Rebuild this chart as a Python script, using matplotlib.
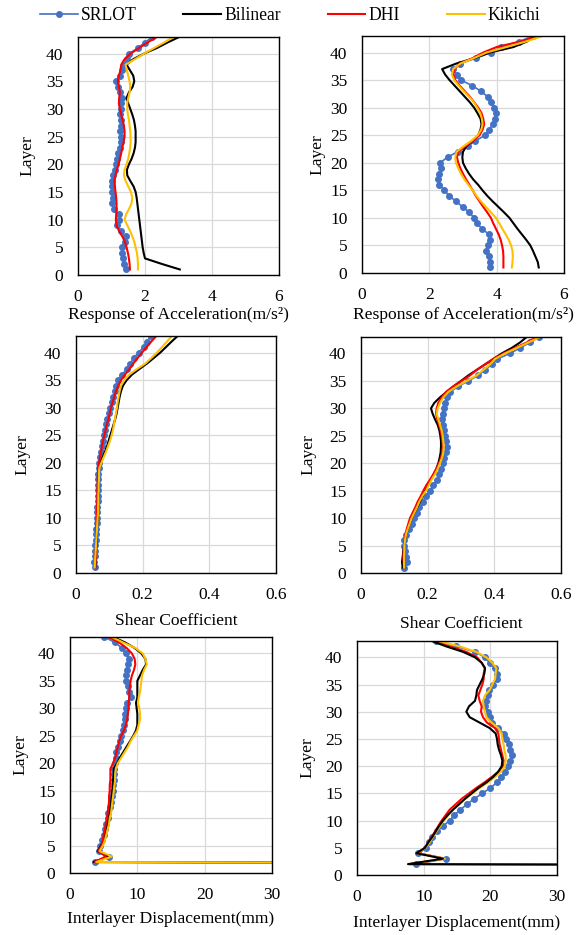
import numpy as np
import matplotlib
matplotlib.use('Agg')
import matplotlib.pyplot as plt

plt.rcParams['font.family'] = ['Liberation Serif', 'DejaVu Serif']
plt.rcParams['font.size'] = 12.5

W, H = 586, 935

layers = list(range(1, 44))
disp_srlot_layers = list(range(2, 44))

names = ['SRLOT', 'Bilinear', 'DHI', 'Kikichi']
colors = ['#4472C4', '#000000', '#FF0000', '#FFC000']

# ---- response of acceleration, left
acc1_srlot = [1.42, 1.37, 1.35, 1.32, 1.30, 1.39, 1.42, 1.27, 1.17, 1.22, 1.22, 1.07, 1.02, 1.04, 1.02,
              1.00, 1.02, 1.05, 1.09, 1.12, 1.17, 1.20, 1.25, 1.27, 1.27, 1.25, 1.27, 1.27, 1.25, 1.27,
              1.29, 1.30, 1.25, 1.19, 1.12, 1.25, 1.32, 1.37, 1.45, 1.52, 1.79, 1.99, 2.22]
acc1_bilinear = [3.04, 2.50, 2.00, 1.96, 1.93, 1.91, 1.89, 1.87, 1.85, 1.83, 1.81, 1.79, 1.77, 1.75, 1.72,
                 1.66, 1.56, 1.47, 1.46, 1.52, 1.60, 1.66, 1.70, 1.72, 1.72, 1.72, 1.70, 1.67, 1.62, 1.56,
                 1.50, 1.45, 1.52, 1.63, 1.68, 1.65, 1.55, 1.45, 1.65, 1.97, 2.35, 2.67, 3.02]
acc1_dhi = [1.55, 1.54, 1.52, 1.49, 1.45, 1.40, 1.32, 1.22, 1.15, 1.13, 1.14, 1.15, 1.15, 1.14, 1.12,
            1.10, 1.09, 1.12, 1.16, 1.21, 1.25, 1.29, 1.32, 1.36, 1.39, 1.39, 1.37, 1.33, 1.29, 1.25,
            1.22, 1.23, 1.25, 1.22, 1.19, 1.22, 1.27, 1.29, 1.39, 1.57, 1.82, 2.07, 2.35]
acc1_kikichi = [1.79, 1.79, 1.78, 1.76, 1.72, 1.68, 1.62, 1.55, 1.47, 1.39, 1.44, 1.53, 1.60, 1.62, 1.58,
                1.50, 1.42, 1.37, 1.39, 1.45, 1.50, 1.53, 1.56, 1.57, 1.57, 1.56, 1.54, 1.52, 1.49, 1.47,
                1.47, 1.50, 1.54, 1.56, 1.54, 1.50, 1.46, 1.42, 1.70, 1.97, 2.27, 2.57, 2.85]

# ---- response of acceleration, right
acc2_srlot = [3.80, 3.80, 3.76, 3.68, 3.73, 3.81, 3.78, 3.56, 3.43, 3.33, 3.19, 2.99, 2.79, 2.59, 2.45,
              2.30, 2.25, 2.28, 2.35, 2.32, 2.54, 2.84, 3.14, 3.37, 3.66, 3.78, 3.88, 3.96, 3.98, 3.93,
              3.83, 3.73, 3.53, 3.27, 2.94, 2.81, 2.71, 2.90, 3.39, 3.83, 4.13, 4.67, 5.07]
acc2_bilinear = [5.25, 5.22, 5.15, 5.08, 5.00, 4.88, 4.75, 4.62, 4.50, 4.38, 4.22, 4.05, 3.88, 3.72, 3.58,
                 3.45, 3.30, 3.18, 3.08, 3.00, 2.98, 3.00, 3.10, 3.30, 3.45, 3.52, 3.55, 3.52, 3.43, 3.33,
                 3.20, 3.05, 2.90, 2.75, 2.60, 2.47, 2.38, 2.80, 3.35, 3.80, 4.50, 4.90, 5.12]
acc2_dhi = [4.20, 4.20, 4.20, 4.19, 4.16, 4.12, 4.06, 3.98, 3.90, 3.83, 3.72, 3.60, 3.49, 3.38, 3.29,
            3.19, 3.09, 3.00, 2.92, 2.86, 2.82, 2.85, 3.07, 3.30, 3.49, 3.58, 3.63, 3.60, 3.55, 3.45,
            3.33, 3.20, 3.05, 2.90, 2.77, 2.71, 2.74, 2.92, 3.29, 3.60, 4.00, 4.70, 5.27]
acc2_kikichi = [4.45, 4.47, 4.48, 4.47, 4.43, 4.36, 4.27, 4.17, 4.08, 3.98, 3.83, 3.68, 3.53, 3.40, 3.29,
                3.16, 3.04, 2.94, 2.86, 2.79, 2.77, 2.81, 3.02, 3.25, 3.44, 3.54, 3.58, 3.56, 3.51, 3.42,
                3.32, 3.18, 3.02, 2.87, 2.74, 2.67, 2.71, 2.92, 3.33, 3.70, 4.29, 4.87, 5.37]

# ---- shear coefficient, left
shear1_srlot = [0.056, 0.053, 0.056, 0.057, 0.058, 0.059, 0.060, 0.061, 0.062, 0.063, 0.064, 0.064, 0.065,
                0.065, 0.066, 0.066, 0.067, 0.067, 0.068, 0.070, 0.073, 0.076, 0.078, 0.081, 0.084, 0.086,
                0.089, 0.093, 0.098, 0.103, 0.108, 0.111, 0.116, 0.121, 0.126, 0.138, 0.153, 0.163, 0.173,
                0.188, 0.203, 0.213, 0.225]
shear1_bilinear = [0.058, 0.058, 0.059, 0.060, 0.061, 0.062, 0.063, 0.063, 0.064, 0.065, 0.065, 0.066, 0.066,
                   0.067, 0.067, 0.068, 0.068, 0.069, 0.069, 0.073, 0.080, 0.087, 0.093, 0.098, 0.103, 0.108,
                   0.113, 0.118, 0.122, 0.125, 0.128, 0.131, 0.135, 0.141, 0.152, 0.168, 0.190, 0.213, 0.233,
                   0.253, 0.270, 0.287, 0.305]
shear1_dhi = [0.058, 0.058, 0.059, 0.059, 0.060, 0.060, 0.061, 0.061, 0.062, 0.062, 0.063, 0.063, 0.064,
              0.064, 0.064, 0.065, 0.065, 0.066, 0.066, 0.069, 0.072, 0.075, 0.078, 0.081, 0.085, 0.089,
              0.093, 0.098, 0.101, 0.105, 0.110, 0.115, 0.120, 0.127, 0.135, 0.147, 0.160, 0.172, 0.185,
              0.198, 0.212, 0.226, 0.241]
shear1_kikichi = [0.056, 0.057, 0.058, 0.059, 0.060, 0.061, 0.062, 0.063, 0.064, 0.065, 0.066, 0.066, 0.067,
                  0.067, 0.068, 0.068, 0.069, 0.069, 0.070, 0.076, 0.083, 0.090, 0.096, 0.102, 0.107, 0.111,
                  0.114, 0.117, 0.120, 0.123, 0.125, 0.128, 0.131, 0.135, 0.145, 0.160, 0.183, 0.208, 0.226,
                  0.243, 0.258, 0.273, 0.288]

# ---- shear coefficient, right
shear2_srlot = [0.130, 0.137, 0.134, 0.132, 0.130, 0.129, 0.135, 0.145, 0.152, 0.159, 0.167, 0.175, 0.185,
                0.195, 0.207, 0.217, 0.227, 0.234, 0.240, 0.245, 0.249, 0.255, 0.257, 0.255, 0.252, 0.249,
                0.245, 0.244, 0.245, 0.249, 0.253, 0.257, 0.267, 0.292, 0.322, 0.352, 0.372, 0.392, 0.409,
                0.447, 0.477, 0.507, 0.535]
shear2_bilinear = [0.125, 0.123, 0.125, 0.127, 0.129, 0.132, 0.135, 0.140, 0.146, 0.152, 0.160, 0.169, 0.177,
                   0.185, 0.192, 0.200, 0.209, 0.218, 0.226, 0.232, 0.236, 0.239, 0.240, 0.240, 0.238, 0.235,
                   0.230, 0.222, 0.215, 0.210, 0.220, 0.237, 0.257, 0.277, 0.300, 0.322, 0.347, 0.372, 0.397,
                   0.422, 0.452, 0.477, 0.497]
shear2_dhi = [0.130, 0.128, 0.127, 0.128, 0.129, 0.131, 0.133, 0.137, 0.142, 0.147, 0.155, 0.163, 0.170,
              0.179, 0.187, 0.196, 0.207, 0.217, 0.226, 0.234, 0.240, 0.244, 0.245, 0.244, 0.242, 0.239,
              0.234, 0.229, 0.225, 0.227, 0.232, 0.242, 0.255, 0.277, 0.302, 0.327, 0.347, 0.372, 0.397,
              0.427, 0.462, 0.497, 0.527]
shear2_kikichi = [0.129, 0.129, 0.129, 0.130, 0.130, 0.132, 0.135, 0.140, 0.146, 0.152, 0.160, 0.168, 0.175,
                  0.184, 0.195, 0.203, 0.212, 0.222, 0.230, 0.237, 0.243, 0.247, 0.248, 0.247, 0.245, 0.242,
                  0.237, 0.232, 0.227, 0.230, 0.237, 0.247, 0.262, 0.287, 0.317, 0.347, 0.367, 0.387, 0.402,
                  0.432, 0.467, 0.502, 0.537]

# ---- interlayer displacement, left (SRLOT from layer 2, first layer of the others runs off the axis)
disp1_srlot = [3.7, 5.8, 4.3, 4.4, 4.8, 5.0, 5.2, 5.4, 5.6, 5.7, 5.9, 6.1, 6.3, 6.4, 6.4, 6.5, 6.6, 6.6,
               6.7, 6.8, 6.9, 7.2, 7.4, 7.6, 7.8, 8.0, 8.1, 8.2, 8.3, 8.5, 9.0, 8.8, 8.6, 8.3, 8.3, 8.4,
               8.6, 8.7, 8.3, 7.7, 6.7, 5.1]
disp1_bilinear = [300, 3.5, 5.7, 4.1, 4.6, 5.0, 5.2, 5.4, 5.6, 5.7, 5.9, 6.0, 6.1, 6.2, 6.3, 6.4, 6.4,
                  6.5, 6.5, 7.0, 7.4, 7.9, 8.4, 8.9, 9.4, 9.8, 10.0, 10.0, 10.0, 9.9, 9.8, 10.0, 10.0,
                  10.0, 10.0, 10.4, 10.8, 11.3, 11.2, 10.6, 9.6, 8.2, 6.4]
disp1_dhi = [300, 3.7, 5.3, 4.2, 4.7, 4.9, 5.0, 5.2, 5.3, 5.5, 5.6, 5.7, 5.8, 5.8, 5.9, 5.9, 6.0, 6.0,
             6.0, 6.4, 6.7, 6.9, 7.1, 7.3, 7.6, 8.0, 8.3, 8.5, 8.6, 8.7, 8.7, 8.8, 8.8, 8.9, 9.0, 9.2,
             9.5, 9.7, 9.6, 9.2, 8.4, 7.3, 5.7]
disp1_kikichi = [300, 3.9, 6.2, 4.4, 4.9, 5.2, 5.4, 5.6, 5.8, 5.9, 6.1, 6.2, 6.3, 6.4, 6.5, 6.6, 6.7,
                 6.7, 6.8, 7.1, 7.6, 8.1, 8.6, 9.0, 9.5, 10.0, 10.2, 10.4, 10.4, 10.3, 10.1, 10.2, 10.4,
                 10.5, 10.6, 10.7, 11.0, 11.4, 11.2, 10.8, 9.7, 7.9, 6.2]

# ---- interlayer displacement, right
disp2_srlot = [8.9, 13.3, 9.2, 10.4, 10.8, 11.3, 12.0, 12.9, 13.9, 14.6, 15.5, 16.5, 17.6, 18.8, 20.0,
               21.0, 21.6, 22.2, 22.6, 23.0, 23.2, 22.9, 22.8, 22.4, 22.0, 21.2, 20.3, 20.0, 19.7, 19.2,
               19.4, 19.7, 19.8, 20.4, 21.0, 21.0, 20.7, 19.9, 19.2, 17.7, 14.9, 11.9]
disp2_bilinear = [300, 7.65, 12.9, 8.9, 10.2, 10.7, 11.3, 11.8, 12.3, 12.9, 13.6, 14.4, 15.3, 16.2, 17.2,
                  18.2, 19.4, 20.4, 21.2, 21.7, 21.8, 21.6, 21.3, 21.1, 21.0, 20.8, 19.9, 18.4, 16.9, 16.4,
                  16.8, 17.7, 17.9, 18.0, 18.4, 18.8, 19.1, 19.2, 18.7, 17.7, 15.9, 13.4, 11.2]
disp2_dhi = [300, 7.9, 13.2, 9.2, 10.2, 10.7, 11.2, 11.7, 12.2, 12.7, 13.3, 13.9, 14.8, 15.7, 16.8,
             17.9, 19.1, 20.2, 21.2, 21.9, 22.0, 21.8, 21.6, 21.4, 21.3, 21.2, 20.7, 19.5, 18.9, 18.6,
             18.7, 18.4, 18.2, 18.5, 18.8, 19.0, 19.0, 19.2, 18.7, 18.0, 16.4, 13.9, 11.4]
disp2_kikichi = [300, 7.9, 13.2, 9.0, 10.3, 10.9, 11.4, 11.9, 12.5, 13.0, 13.7, 14.4, 15.3, 16.2, 17.3,
                 18.4, 19.6, 20.7, 21.6, 22.2, 22.3, 22.3, 22.1, 22.0, 21.8, 21.7, 21.2, 20.2, 19.4, 19.2,
                 19.0, 18.9, 19.2, 19.9, 20.3, 20.7, 20.8, 20.9, 20.3, 19.4, 17.9, 15.4, 12.2]

acc_ticks = [0, 2, 4, 6]
shear_ticks = [0, 0.2, 0.4, 0.6]
disp_ticks = [0, 10, 20, 30]
layer_ticks = [0, 5, 10, 15, 20, 25, 30, 35, 40]


def add_panel(fig, box, xlabel_y, ylabel_x):
    # box in pixels: left, top, right, bottom
    l, t, r, b = box
    ax = fig.add_axes([l / W, (H - b) / H, (r - l) / W, (b - t) / H])
    ax.xaxis.set_label_coords(0.5, xlabel_y)
    ax.yaxis.set_label_coords(ylabel_x, 0.47)
    return ax


def draw(ax, srlot_layers, srlot, others, xticks, xlabel, black_on_top=False):
    ax.plot(srlot, srlot_layers, color=colors[0], lw=1.2, marker='o', ms=4, label=names[0], zorder=2)
    for i, (vals, nm, c) in enumerate(zip(others, names[1:], colors[1:])):
        z = 3 + i
        if black_on_top and nm == 'Bilinear':
            z = 6
        ax.plot(vals, layers, color=c, lw=1.5, label=nm, zorder=z)
    ax.set_xlim(xticks[0], xticks[-1])
    ax.set_ylim(0, 43)
    ax.set_xticks(xticks)
    ax.set_xticklabels([('%g' % v) for v in xticks])
    ax.set_yticks(layer_ticks)
    ax.grid(True, color='#D9D9D9', lw=0.9)
    ax.set_axisbelow(True)
    ax.tick_params(length=0, labelsize=12.5)
    ax.tick_params(axis='x', pad=10)
    ax.tick_params(axis='y', pad=10.5)
    for s in ax.spines.values():
        s.set_color('black')
        s.set_linewidth(1.0)
        s.set_zorder(10)
    ax.set_xlabel(xlabel, fontsize=12.6)
    ax.set_ylabel('Layer', fontsize=12.6)


fig = plt.figure(figsize=(W / 100, H / 100), dpi=100)

ax1 = add_panel(fig, (78, 37, 279, 275), -0.134, -0.214)
draw(ax1, layers, acc1_srlot, [acc1_bilinear, acc1_dhi, acc1_kikichi], acc_ticks,
     'Response of Acceleration(m/s\u00b2)')

ax2 = add_panel(fig, (362, 36, 564, 273), -0.143, -0.183)
draw(ax2, layers, acc2_srlot, [acc2_bilinear, acc2_dhi, acc2_kikichi], acc_ticks,
     'Response of Acceleration(m/s\u00b2)')

ax3 = add_panel(fig, (76, 336, 276, 573), -0.169, -0.23)
draw(ax3, layers, shear1_srlot, [shear1_bilinear, shear1_dhi, shear1_kikichi], shear_ticks,
     'Shear Coefficient')

ax4 = add_panel(fig, (361, 337, 561, 573), -0.182, -0.225)
draw(ax4, layers, shear2_srlot, [shear2_bilinear, shear2_dhi, shear2_kikichi], shear_ticks,
     'Shear Coefficient')

ax5 = add_panel(fig, (70, 637, 272, 873), -0.161, -0.208)
draw(ax5, disp_srlot_layers, disp1_srlot, [disp1_bilinear, disp1_dhi, disp1_kikichi], disp_ticks,
     'Interlayer Displacement(mm)')

ax6 = add_panel(fig, (357, 641, 557, 875), -0.171, -0.21)
draw(ax6, disp_srlot_layers, disp2_srlot, [disp2_bilinear, disp2_dhi, disp2_kikichi], disp_ticks,
     'Interlayer Displacement(mm)', black_on_top=True)

handles, labels = ax1.get_legend_handles_labels()
fig.legend(handles, labels, loc='center', bbox_to_anchor=(290 / W, 1 - 16 / H), ncol=4,
           frameon=False, fontsize=12.7, handlelength=2.15, handletextpad=0.17, columnspacing=2.65)

fig.savefig('out.png', dpi=100)
